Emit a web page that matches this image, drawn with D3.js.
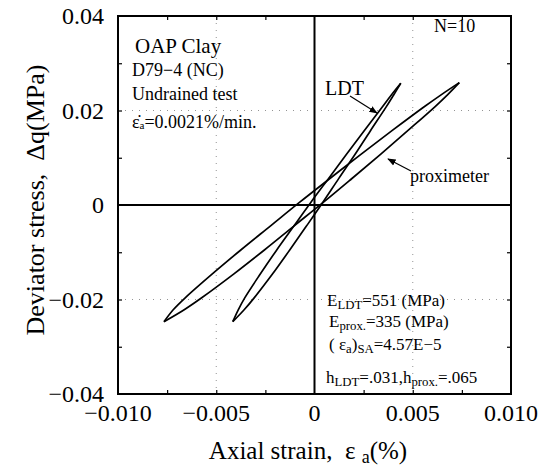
<!DOCTYPE html>
<html><head><meta charset="utf-8">
<script src="https://cdn.jsdelivr.net/npm/d3@7"></script>
<style>body{margin:0;background:#fff}svg{display:block}text{font-family:"Liberation Serif","Times New Roman",serif;fill:#000;white-space:pre}</style>
</head><body><svg id="c" width="545" height="470"></svg>
<script>
// ---- data ----
const xTicks = [-0.010, -0.005, 0, 0.005, 0.010];
const xTickLabels = ["\u22120.010", "\u22120.005", "0", "0.005", "0.010"];
const yTicks = [-0.04, -0.02, 0, 0.02, 0.04];
const yTickLabels = ["\u22120.04", "\u22120.02", "0", "0.02", "0.04"];
const xMinor = [-0.0075, -0.005, -0.0025, 0.0025, 0.005, 0.0075];
const yMinor = [-0.03, -0.02, -0.01, 0.01, 0.02, 0.03];
const gridX = [-0.005, 0.005];
const gridY = [-0.02, 0.02];

// LDT loop: loading branch (right/lower) and unloading branch (left/upper), tip to tip
const ldtLoadX = [-0.00416, -0.00358, -0.00307, -0.00214, -0.00127, -0.00042, 0.00042, 0.00123, 0.00205, 0.00284, 0.00364, 0.00402, 0.00439];
const ldtLoadY = [-0.0247, -0.02218, -0.01965, -0.01461, -0.00956, -0.00452, 0.00053, 0.00558, 0.01062, 0.01567, 0.02071, 0.02324, 0.02576];
const ldtUnloadX = [0.00439, 0.00390, 0.00344, 0.00252, 0.00161, 0.00071, -0.00019, -0.00106, -0.00193, -0.00276, -0.00355, -0.00388, -0.00416];
const ldtUnloadY = [0.02576, 0.02324, 0.02071, 0.01567, 0.01062, 0.00558, 0.00053, -0.00452, -0.00956, -0.01461, -0.01965, -0.02218, -0.0247];

// Proximeter loop
const proxLoadX = [-0.00766, -0.00663, -0.00574, -0.00410, -0.00255, -0.00105, 0.00046, 0.00192, 0.00336, 0.00476, 0.00614, 0.00678, 0.00737];
const proxLoadY = [-0.0247, -0.02217, -0.01964, -0.01458, -0.00952, -0.00446, 0.0006, 0.00566, 0.01072, 0.01578, 0.02084, 0.02337, 0.0259];
const proxUnloadX = [0.00737, 0.00646, 0.00560, 0.00396, 0.00236, 0.00080, -0.00075, -0.00225, -0.00375, -0.00520, -0.00658, -0.00719, -0.00766];
const proxUnloadY = [0.0259, 0.02337, 0.02084, 0.01578, 0.01072, 0.00566, 0.0006, -0.00446, -0.00952, -0.01458, -0.01964, -0.02217, -0.0247];

// ---- drawing ----
const svg = d3.select("#c");
const L = 118, R = 511, T = 16, B = 394;
const x = d3.scaleLinear().domain([-0.01, 0.01]).range([L, R]);
const y = d3.scaleLinear().domain([-0.04, 0.04]).range([B, T]);

// dotted grid
const g = svg.append("g").attr("stroke", "#888").attr("stroke-width", 0.9).attr("stroke-dasharray", "1,6");
gridX.forEach(v => g.append("line").attr("x1", x(v)).attr("x2", x(v)).attr("y1", T).attr("y2", B));
gridY.forEach(v => g.append("line").attr("y1", y(v)).attr("y2", y(v)).attr("x1", L).attr("x2", R));

// axes with inward ticks
const ax = d3.axisBottom(x).tickValues(xMinor).tickSize(-4).tickFormat("");
const axT = d3.axisTop(x).tickValues(xMinor).tickSize(-4).tickFormat("");
const ay = d3.axisLeft(y).tickValues(yMinor).tickSize(-4).tickFormat("");
const ayR = d3.axisRight(y).tickValues(yMinor).tickSize(-4).tickFormat("");
[[ax, `translate(0,${B})`], [axT, `translate(0,${T})`], [ay, `translate(${L},0)`], [ayR, `translate(${R},0)`]].forEach(([a, tr]) => {
  const gg = svg.append("g").attr("transform", tr).call(a);
  gg.select(".domain").remove();
  gg.selectAll("line").attr("stroke", "#000").attr("stroke-width", 1.2);
});

// zero lines
svg.append("line").attr("x1", L).attr("x2", R).attr("y1", y(0)).attr("y2", y(0)).attr("stroke", "#000").attr("stroke-width", 2);
svg.append("line").attr("x1", x(0)).attr("x2", x(0)).attr("y1", T).attr("y2", B).attr("stroke", "#000").attr("stroke-width", 2);

// frame
svg.append("rect").attr("x", L).attr("y", T).attr("width", R - L).attr("height", B - T)
  .attr("fill", "none").attr("stroke", "#000").attr("stroke-width", 2);

// tick labels
svg.append("g").selectAll("text").data(xTicks).join("text")
  .attr("x", d => x(d)).attr("y", 421).attr("text-anchor", "middle").attr("font-size", 24)
  .text((d, i) => xTickLabels[i]);
svg.append("g").selectAll("text").data(yTicks).join("text")
  .attr("x", 104).attr("y", d => y(d)).attr("dy", "0.34em").attr("text-anchor", "end").attr("font-size", 24)
  .text((d, i) => yTickLabels[i]);

// axis titles
const xt = svg.append("text").attr("x", 308).attr("y", 459).attr("text-anchor", "middle").attr("font-size", 25);
xt.append("tspan").text("Axial strain,  \u03b5 ");
xt.append("tspan").attr("font-size", 18).attr("dy", 4).text("a");
xt.append("tspan").attr("dy", -4).text("(%)");
svg.append("text").attr("transform", "translate(44,200) rotate(-90)").attr("text-anchor", "middle").attr("font-size", 26)
  .text("Deviator stress,  \u0394q(MPa)");

// loops
const line = d3.line().x(d => x(d[0])).y(d => y(d[1])).curve(d3.curveCatmullRom.alpha(0.5));
[[ldtLoadX, ldtLoadY], [ldtUnloadX, ldtUnloadY], [proxLoadX, proxLoadY], [proxUnloadX, proxUnloadY]].forEach(([xs, ys]) => {
  svg.append("path").attr("d", line(xs.map((v, i) => [v, ys[i]])))
    .attr("fill", "none").attr("stroke", "#000").attr("stroke-width", 1.7);
});

// annotations
const defs = svg.append("defs");
defs.append("marker").attr("id", "ah").attr("viewBox", "0 0 10 10").attr("refX", 9).attr("refY", 5)
  .attr("markerWidth", 7).attr("markerHeight", 7).attr("orient", "auto")
  .append("path").attr("d", "M0,1 L10,5 L0,9 z").attr("fill", "#000");
svg.append("text").attr("x", 325).attr("y", 95).attr("font-size", 20).text("LDT");
svg.append("line").attr("x1", 350).attr("y1", 96).attr("x2", 377).attr("y2", 113)
  .attr("stroke", "#000").attr("stroke-width", 1.2).attr("marker-end", "url(#ah)");
svg.append("text").attr("x", 410).attr("y", 182).attr("font-size", 18).text("proximeter");
svg.append("line").attr("x1", 411).attr("y1", 171).attr("x2", 388).attr("y2", 159)
  .attr("stroke", "#000").attr("stroke-width", 1.2).attr("marker-end", "url(#ah)");
svg.append("text").attr("x", 434).attr("y", 32).attr("font-size", 18).text("N=10");

svg.append("text").attr("x", 135).attr("y", 53).attr("font-size", 21).text("OAP Clay");
svg.append("text").attr("x", 132).attr("y", 76).attr("font-size", 18).text("D79\u22124 (NC)");
svg.append("text").attr("x", 132).attr("y", 100).attr("font-size", 18).text("Undrained test");
const rt = svg.append("text").attr("x", 132).attr("y", 128).attr("font-size", 18);
rt.append("tspan").text("\u03b5\u0307");
rt.append("tspan").attr("font-size", 11).attr("dy", 1).text("a");
rt.append("tspan").attr("dy", -1).text("=0.0021%/min.");

function sub(xp, yp, parts, fs) {
  const t = svg.append("text").attr("x", xp).attr("y", yp).attr("font-size", fs);
  let cur = 0;
  parts.forEach(([s, isSub]) => {
    const off = isSub ? 3 : 0;
    t.append("tspan").attr("dy", off - cur).attr("font-size", isSub ? fs * 0.75 : fs).text(s);
    cur = off;
  });
}
sub(327, 306, [["E", 0], ["LDT", 1], ["=551 (MPa)", 0]], 17);
sub(329, 327, [["E", 0], ["prox.", 1], ["=335 (MPa)", 0]], 17);
sub(329, 350, [["( \u03b5", 0], ["a", 1], [")", 0], ["SA", 1], ["=4.57E\u22125", 0]], 17);
sub(326, 383, [["h", 0], ["LDT", 1], ["=.031,h", 0], ["prox.", 1], ["=.065", 0]], 17);
</script></body></html>
